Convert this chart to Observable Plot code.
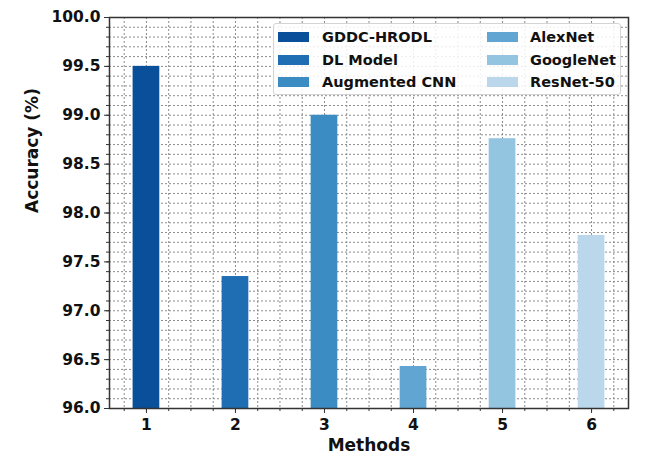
<!DOCTYPE html>
<html><head><meta charset="utf-8">
<script src="https://cdn.jsdelivr.net/npm/d3@7"></script>
<script src="https://cdn.jsdelivr.net/npm/@observablehq/plot@0.6"></script>
<style>
body{margin:0;background:#fff;}
#wrap{position:relative;width:645px;height:454px;font-family:"DejaVu Sans",sans-serif;}
#legend{position:absolute;left:273px;top:23px;width:348px;height:72px;box-sizing:border-box;border:1px solid #d4d4d4;border-radius:3px;background:rgba(255,255,255,0.85);}
.item{position:absolute;display:flex;align-items:center;font-weight:bold;font-size:14.5px;color:#111;white-space:nowrap;transform:translateY(-50%);}
.sw{width:31px;height:10px;margin-right:13px;}
</style></head>
<body>
<div id="wrap"></div>
<script>
const methodIds = [1, 2, 3, 4, 5, 6];
const methodNames = ["GDDC-HRODL", "DL Model", "Augmented CNN", "AlexNet", "GoogleNet", "ResNet-50"];
const accuracy = [99.50, 97.35, 99.00, 96.43, 98.76, 97.77];
const barColors = ["#0a4f9a", "#1f6db3", "#3c8cc4", "#61a6d3", "#93c4e0", "#bbd7ec"];
const yTickLabels = [96.0, 96.5, 97.0, 97.5, 98.0, 98.5, 99.0, 99.5, 100.0];
const xTickLabels = [1, 2, 3, 4, 5, 6];

const data = methodIds.map((m, i) => ({m, name: methodNames[i], acc: accuracy[i]}));
const yMinor = d3.range(961, 1000).map(d => d / 10);
const xMinor = d3.range(3, 26).map(d => d / 4);

const chart = Plot.plot({
  width: 645, height: 454,
  marginLeft: 109, marginRight: 17, marginTop: 17, marginBottom: 46,
  style: {fontFamily: "DejaVu Sans", fontSize: "15.5px", fontWeight: "bold", color: "#111", background: "#fff"},
  x: {domain: [0.585, 6.415], axis: null},
  y: {domain: [96, 100], axis: null},
  color: {domain: methodNames, range: barColors},
  marks: [
    Plot.ruleY(yMinor, {y: d => d, stroke: "#8c8c8c", strokeWidth: 1, strokeDasharray: "2,2"}),
    Plot.ruleX(xMinor, {x: d => d, stroke: "#8c8c8c", strokeWidth: 1, strokeDasharray: "2,2"}),
    Plot.rect(data, {x1: d => d.m - 0.15, x2: d => d.m + 0.15, y1: 96, y2: "acc", fill: "name"}),
    Plot.axisY({ticks: yMinor, tickSize: 3, tickFormat: () => "", label: null, stroke: "#333"}),
    Plot.axisY({ticks: yTickLabels, tickSize: 5, tickPadding: 4, tickFormat: d3.format(".1f"), label: null, stroke: "#333"}),
    Plot.axisX({ticks: xMinor, tickSize: 3, tickFormat: () => "", label: null, stroke: "#333"}),
    Plot.axisX({ticks: xTickLabels, tickSize: 5, tickPadding: 5, tickFormat: d => String(d), label: null, stroke: "#333"}),
    Plot.frame({stroke: "#333", strokeWidth: 1.5}),
    Plot.text(["Accuracy (%)"], {frameAnchor: "left", dx: -77, rotate: -90, fontSize: 17, fontWeight: "bold", fill: "#111"}),
    Plot.text(["Methods"], {frameAnchor: "bottom", dy: 42, fontSize: 17, fontWeight: "bold", fill: "#111"})
  ]
});
const wrap = document.getElementById("wrap");
wrap.appendChild(chart);

const legend = document.createElement("div");
legend.id = "legend";
const rows = [13, 35.5, 57.5];
const cols = [4, 213];
methodNames.forEach((name, i) => {
  const col = Math.floor(i / 3), row = i % 3;
  const it = document.createElement("div");
  it.className = "item";
  it.style.left = cols[col] + "px";
  it.style.top = rows[row] + "px";
  const sw = document.createElement("span");
  sw.className = "sw";
  sw.style.background = barColors[i];
  if (col === 1) sw.style.marginRight = "12px";
  const tx = document.createElement("span");
  tx.textContent = name;
  it.appendChild(sw); it.appendChild(tx);
  legend.appendChild(it);
});
wrap.appendChild(legend);
</script>
</body></html>
